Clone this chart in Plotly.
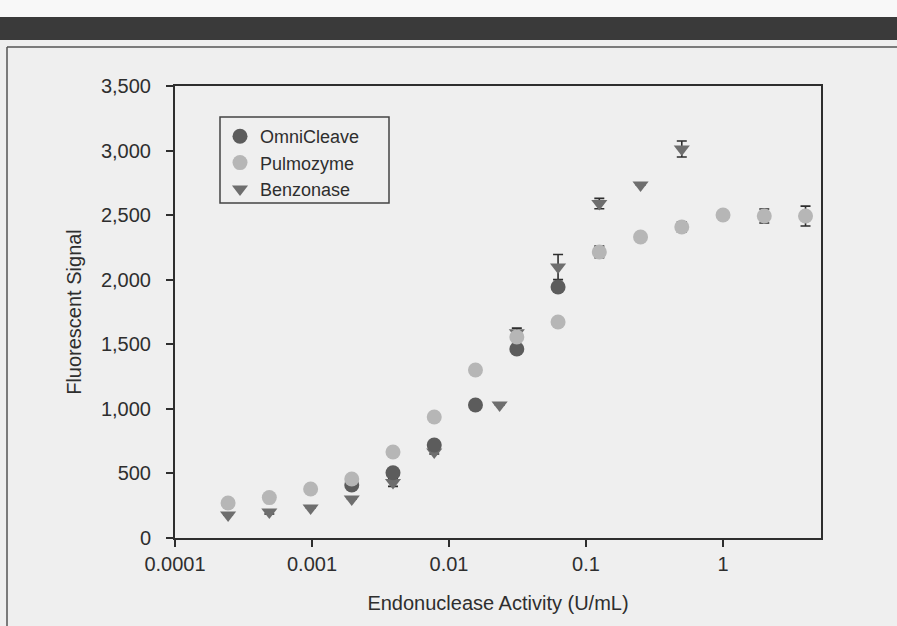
import math
import plotly.graph_objects as go

NAN = float("nan")

# ---- data ----
omni_x = [0.00195, 0.0039, 0.0078, 0.0156, 0.03125, 0.0625]
omni_y = [410, 505, 720, 1030, 1463, 1944]

pulmo_x = [0.000244, 0.000488, 0.000977, 0.00195, 0.0039, 0.0078, 0.0156,
           0.03125, 0.0625, 0.125, 0.25, 0.5, 1, 2, 4]
pulmo_y = [271, 313, 379, 457, 666, 937, 1301, 1556, 1673, 2215, 2331, 2408,
           2501, 2493, 2493]
pulmo_err = [NAN, NAN, NAN, NAN, NAN, NAN, NAN, NAN, NAN, 45, 25, 40, NAN, 54, 77]

benzo_x = [0.000244, 0.000488, 0.000977, 0.00195, 0.0039, 0.0078, 0.0234,
           0.03125, 0.0625, 0.125, 0.25, 0.5]
benzo_y = [178, 201, 232, 302, 430, 666, 1030, 1590, 2098, 2590, 2733, 3012]
benzo_err = [NAN, 15, NAN, NAN, 30, 15, NAN, 35, 97, 40, NAN, 62]

x_tickvals = [0.0001, 0.001, 0.01, 0.1, 1]
x_ticktext = ["0.0001", "0.001", "0.01", "0.1", "1"]
y_tickvals = [0, 500, 1000, 1500, 2000, 2500, 3000, 3500]
y_ticktext = ["0", "500", "1,000", "1,500", "2,000", "2,500", "3,000", "3,500"]

# ---- figure ----
BG = "#efefef"
INK = "#2e2e2e"
FONT = "Liberation Sans, Arial, sans-serif"
FS = 20

W, H = 897, 626
L, R, T, B = 175, 821, 86, 538


def px_to_paper_x(px):
    return (px - L) / (R - L)


def px_to_paper_y(py):
    return (B - py) / (B - T)


err_style = dict(type="data", visible=True, color=INK, thickness=1.6, width=5)

fig = go.Figure()
fig.add_trace(go.Scatter(
    x=benzo_x, y=benzo_y, mode="markers", name="Benzonase",
    marker=dict(symbol="triangle-down", size=14, color="#6e6e6e"),
    error_y=dict(array=benzo_err, **err_style), legendrank=3,
))
fig.add_trace(go.Scatter(
    x=omni_x, y=omni_y, mode="markers", name="OmniCleave",
    marker=dict(symbol="circle", size=15, color="#5c5c5c"), legendrank=1,
))
fig.add_trace(go.Scatter(
    x=pulmo_x, y=pulmo_y, mode="markers", name="Pulmozyme",
    marker=dict(symbol="circle", size=15, color="#b6b6b6"),
    error_y=dict(array=pulmo_err, **err_style), legendrank=2,
))

shapes = [
    dict(type="rect", xref="paper", yref="paper",
         x0=px_to_paper_x(0), x1=px_to_paper_x(W),
         y0=px_to_paper_y(17), y1=px_to_paper_y(0),
         fillcolor="#f8f8f8", line=dict(width=0), layer="below"),
    dict(type="rect", xref="paper", yref="paper",
         x0=px_to_paper_x(0), x1=px_to_paper_x(W),
         y0=px_to_paper_y(40), y1=px_to_paper_y(17),
         fillcolor="#3a3a3a", line=dict(width=0)),
    dict(type="line", xref="paper", yref="paper",
         x0=px_to_paper_x(7), x1=px_to_paper_x(W),
         y0=px_to_paper_y(47), y1=px_to_paper_y(47),
         line=dict(color="#555555", width=1.5)),
    dict(type="line", xref="paper", yref="paper",
         x0=px_to_paper_x(7), x1=px_to_paper_x(7),
         y0=px_to_paper_y(47), y1=px_to_paper_y(H),
         line=dict(color="#555555", width=1.5)),
    # legend frame
    dict(type="rect", xref="paper", yref="paper",
         x0=px_to_paper_x(220), x1=px_to_paper_x(389),
         y0=px_to_paper_y(203), y1=px_to_paper_y(117),
         line=dict(color="#444444", width=1.5), fillcolor="rgba(0,0,0,0)"),
]

fig.update_layout(
    width=W, height=H,
    margin=dict(l=L, r=W - R, t=T, b=H - B, pad=0),
    paper_bgcolor=BG, plot_bgcolor=BG,
    font=dict(family=FONT, size=FS, color=INK),
    showlegend=True,
    legend=dict(
        x=px_to_paper_x(220), y=px_to_paper_y(118),
        xanchor="left", yanchor="top",
        bgcolor="rgba(0,0,0,0)", borderwidth=0,
        font=dict(family=FONT, size=18, color=INK),
        traceorder="normal", itemsizing="trace",
    ),
    shapes=shapes,
    xaxis=dict(
        type="log", range=[math.log10(0.0001), 0.715],
        tickvals=x_tickvals, ticktext=x_ticktext,
        showgrid=False, zeroline=False,
        showline=True, linecolor=INK, linewidth=2, mirror=True,
        ticks="outside", ticklen=7, tickwidth=2, tickcolor=INK,
        title=dict(text="Endonuclease Activity (U/mL)", standoff=22,
                   font=dict(size=FS)),
    ),
    yaxis=dict(
        range=[0, 3500],
        tickvals=y_tickvals, ticktext=y_ticktext,
        showgrid=False, zeroline=False,
        showline=True, linecolor=INK, linewidth=2, mirror=True,
        ticks="outside", ticklen=7, tickwidth=2, tickcolor=INK,
        ticklabelstandoff=11,
        title=dict(text="Fluorescent Signal", standoff=14, font=dict(size=FS)),
    ),
)

fig.write_html("out.html", config={"displayModeBar": False},
               post_script="document.body.style.margin='0';")
